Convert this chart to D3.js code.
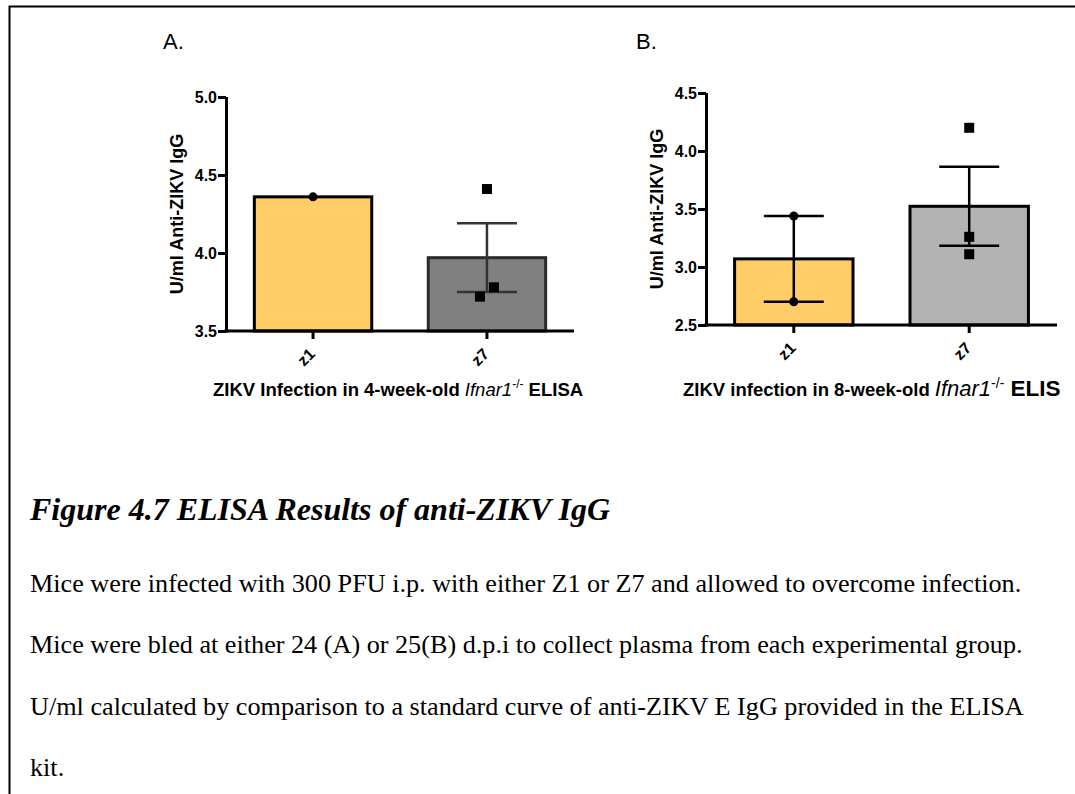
<!DOCTYPE html>
<html>
<head>
<meta charset="utf-8">
<script src="https://cdn.jsdelivr.net/npm/d3@7"></script>
<style>
  body { margin: 0; background: #fff; }
  svg { display: block; }
  .lab { font-family: "Liberation Sans", Arial, sans-serif; font-weight: bold; fill: #000; }
  .cap { font-family: "Liberation Serif", "Times New Roman", serif; fill: #000; }
</style>
</head>
<body>
<svg id="fig" width="1075" height="794"></svg>
<script>
// groups and replicate values
const groups = ['z1', 'z7'];
const valuesA = [[4.36], [4.41, 3.72, 3.78]];
const valuesB = [[3.44, 2.70], [4.20, 3.26, 3.11]];
const ticksA = [3.5, 4.0, 4.5, 5.0];
const ticksB = [2.5, 3.0, 3.5, 4.0, 4.5];
const captionTitle = 'Figure 4.7 ELISA Results of anti-ZIKV IgG';
const captionLines = [
  'Mice were infected with 300 PFU i.p. with either Z1 or Z7 and allowed to overcome infection.',
  'Mice were bled at either 24 (A) or 25(B) d.p.i to collect plasma from each experimental group.',
  'U/ml calculated by comparison to a standard curve of anti-ZIKV E IgG provided in the ELISA',
  'kit.'
];

const svg = d3.select('#fig');

// frame: top and left rules
svg.append('path')
  .attr('d', 'M9.5,794V6.5H1075')
  .attr('fill', 'none')
  .attr('stroke', '#000')
  .attr('stroke-width', 2);

const drawPanel = (opt) => {
  const g = svg.append('g');
  const x = d3.scaleBand()
    .domain(groups)
    .range([opt.left, opt.right])
    .paddingInner(0.325)
    .paddingOuter(0.163);
  const y = d3.scaleLinear()
    .domain(d3.extent(opt.ticks))
    .range([opt.bottom, opt.top]);

  const stats = opt.values.map((v, i) => ({
    group: groups[i],
    vals: v,
    mean: d3.mean(v),
    sem: v.length > 1 ? d3.deviation(v) / Math.sqrt(v.length) : 0
  }));

  // bars
  g.selectAll('.bar')
    .data(stats)
    .join('rect')
    .attr('x', d => x(d.group))
    .attr('width', x.bandwidth())
    .attr('y', d => y(d.mean))
    .attr('height', d => opt.bottom - y(d.mean))
    .attr('fill', (d, i) => opt.fills[i])
    .attr('stroke', (d, i) => opt.strokes[i])
    .attr('stroke-width', 3);

  // error bars (mean ± SEM)
  const eb = g.selectAll('.eb')
    .data(stats.filter(d => d.sem > 0))
    .join('g')
    .attr('stroke', opt.errColor)
    .attr('stroke-width', 2.5);
  const cx = d => x(d.group) + x.bandwidth() / 2;
  const capW = 30;
  eb.append('line')
    .attr('x1', cx).attr('x2', cx)
    .attr('y1', d => y(d.mean + d.sem)).attr('y2', d => y(d.mean - d.sem));
  eb.append('line')
    .attr('x1', d => cx(d) - capW).attr('x2', d => cx(d) + capW)
    .attr('y1', d => y(d.mean + d.sem)).attr('y2', d => y(d.mean + d.sem));
  eb.append('line')
    .attr('x1', d => cx(d) - capW).attr('x2', d => cx(d) + capW)
    .attr('y1', d => y(d.mean - d.sem)).attr('y2', d => y(d.mean - d.sem));

  // points, spread sideways only where they would overlap
  stats.forEach((s, gi) => {
    const pts = s.vals.map(v => ({v, py: y(v), dx: 0}));
    pts.forEach(p => {
      const cluster = pts.filter(q => Math.abs(q.py - p.py) < 11)
        .sort((a, b) => a.v - b.v);
      if (cluster.length > 1) {
        const k = cluster.indexOf(p);
        p.dx = (k - (cluster.length - 1) / 2) * 14;
      }
    });
    const c = cx(s);
    if (gi === 0) {
      g.selectAll(null).data(pts).join('circle')
        .attr('cx', p => c + p.dx).attr('cy', p => p.py)
        .attr('r', 4.5).attr('fill', '#000');
    } else {
      g.selectAll(null).data(pts).join('rect')
        .attr('x', p => c + p.dx - 5).attr('y', p => p.py - 5)
        .attr('width', 10).attr('height', 10).attr('fill', '#000');
    }
  });

  // axes
  const yAxis = g.append('g')
    .attr('transform', `translate(${opt.left},0)`)
    .call(d3.axisLeft(y).tickValues(opt.ticks).tickSize(8).tickPadding(1)
      .tickFormat(d3.format('.1f')));
  const xAxis = g.append('g')
    .attr('transform', `translate(0,${opt.bottom})`)
    .call(d3.axisBottom(x).tickSize(8).tickSizeOuter(0).tickFormat(''));
  [yAxis, xAxis].forEach(a => {
    a.select('.domain').attr('stroke', '#000').attr('stroke-width', 3);
    a.selectAll('.tick line').attr('stroke', '#000').attr('stroke-width', 3);
  });
  yAxis.select('.domain').attr('d', `M0.5,${opt.bottom + 1.5}V${opt.top}`);
  xAxis.select('.domain').attr('d', `M${opt.left - 1.5},0H${opt.right}`);
  yAxis.selectAll('.tick text')
    .attr('class', 'lab')
    .style('font-size', '16px')
    .attr('font-family', null);

  // rotated category labels
  g.selectAll('.xl')
    .data(groups)
    .join('text')
    .attr('class', 'lab')
    .style('font-size', '16px')
    .attr('text-anchor', 'end')
    .attr('transform', d => `translate(${x(d) + x.bandwidth() / 2 + 3},${opt.bottom + 24}) rotate(-45)`)
    .text(d => d);

  // y title
  g.append('text')
    .attr('class', 'lab')
    .style('font-size', '18px')
    .attr('text-anchor', 'middle')
    .attr('transform', `translate(${opt.left - 43},${(opt.top + opt.bottom) / 2}) rotate(-90)`)
    .text('U/ml Anti-ZIKV IgG');

  // x title with italic gene name
  const t = g.append('text')
    .attr('class', 'lab')
    .style('font-size', '18.5px')
    .attr('x', opt.titleX)
    .attr('y', 396);
  t.append('tspan').text(opt.titleLead);
  t.append('tspan').style('font-style', 'italic').style('font-weight', 'normal')
    .style('font-size', opt.geneSize).text('Ifnar1');
  t.append('tspan').style('font-size', opt.supSize).style('font-weight', 'normal')
    .attr('dy', -8).text('-/-');
  t.append('tspan').attr('dy', 8).style('font-size', opt.tailSize).text(opt.titleTail);

  // panel letter
  svg.append('text')
    .attr('x', opt.letterX).attr('y', 49)
    .style('font-family', '"Liberation Sans", Arial, sans-serif')
    .style('font-size', '22px')
    .text(opt.letter);
};

drawPanel({
  letter: 'A.', letterX: 163,
  left: 226, right: 574, top: 97, bottom: 331,
  ticks: ticksA, values: valuesA,
  fills: ['#FFCC66', '#808080'], strokes: ['#000', '#2b2b2b'], errColor: '#333',
  titleX: 213, titleLead: 'ZIKV Infection in 4-week-old ', titleTail: ' ELISA',
  geneSize: '18.5px', supSize: '12px', tailSize: '18.5px'
});
drawPanel({
  letter: 'B.', letterX: 636,
  left: 706, right: 1057, top: 93, bottom: 325,
  ticks: ticksB, values: valuesB,
  fills: ['#FFCC66', '#B3B3B3'], strokes: ['#000', '#000'], errColor: '#000',
  titleX: 683, titleLead: 'ZIKV infection in 8-week-old ', titleTail: ' ELIS',
  geneSize: '22px', supSize: '14px', tailSize: '22.5px'
});

// caption
svg.append('text')
  .attr('class', 'cap')
  .attr('x', 30).attr('y', 520)
  .style('font-size', '32px')
  .style('font-weight', 'bold')
  .style('font-style', 'italic')
  .text(captionTitle);
svg.selectAll('.capline')
  .data(captionLines)
  .join('text')
  .attr('class', 'cap')
  .attr('x', 30)
  .attr('y', (d, i) => 592 + i * 61.3)
  .style('font-size', '26.2px')
  .text(d => d);
</script>
</body>
</html>
